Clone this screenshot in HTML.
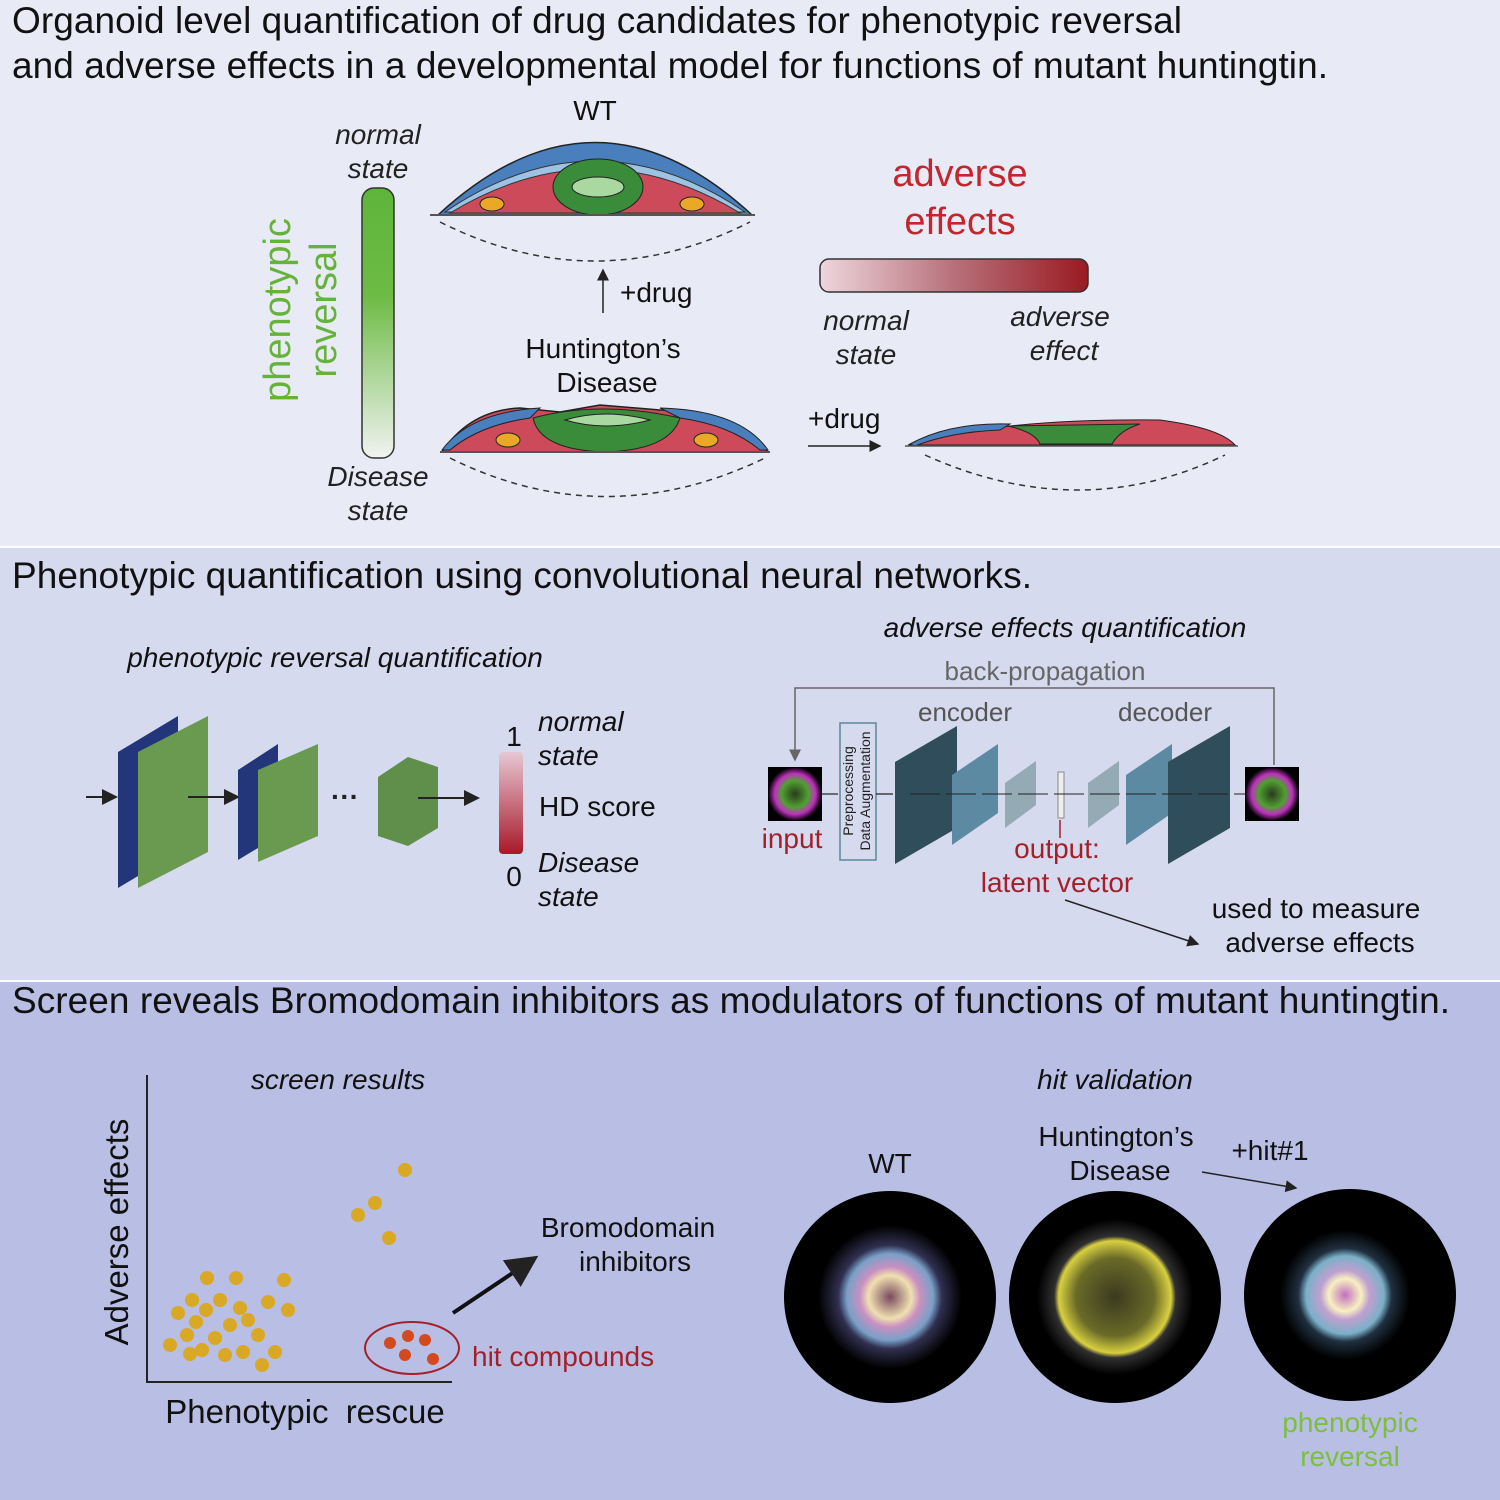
<!DOCTYPE html>
<html><head><meta charset="utf-8"><style>
html,body{margin:0;padding:0;background:#fff}
svg{display:block}
text{font-family:"Liberation Sans",Arial,sans-serif}
.i{font-style:italic}
</style></head><body>
<svg width="1500" height="1500" viewBox="0 0 1500 1500" xmlns="http://www.w3.org/2000/svg">
<defs>
<linearGradient id="gv" x1="0" y1="0" x2="0" y2="1"><stop offset="0" stop-color="#5eb53a"/><stop offset="0.4" stop-color="#6dbb45"/><stop offset="1" stop-color="#f1f3f1"/></linearGradient>
<linearGradient id="gr" x1="0" y1="0" x2="1" y2="0"><stop offset="0" stop-color="#eed6dc"/><stop offset="0.5" stop-color="#b8707a"/><stop offset="1" stop-color="#9a1a22"/></linearGradient>
<linearGradient id="gs" x1="0" y1="0" x2="0" y2="1"><stop offset="0" stop-color="#e6c8d2"/><stop offset="1" stop-color="#a8182a"/></linearGradient>
<radialGradient id="o1"><stop offset="0" stop-color="#7a4a60"/><stop offset="0.3" stop-color="#f0e0b0"/><stop offset="0.42" stop-color="#c890c0"/><stop offset="0.6" stop-color="#7aa0c8"/><stop offset="0.72" stop-color="#303050"/><stop offset="1" stop-color="#000"/></radialGradient>
<radialGradient id="o2"><stop offset="0" stop-color="#3a3a20"/><stop offset="0.5" stop-color="#6a6a28"/><stop offset="0.72" stop-color="#d8d040"/><stop offset="0.78" stop-color="#303030"/><stop offset="1" stop-color="#000"/></radialGradient>
<radialGradient id="o3"><stop offset="0" stop-color="#c070c0"/><stop offset="0.25" stop-color="#f8f0c0"/><stop offset="0.38" stop-color="#c0a0d0"/><stop offset="0.6" stop-color="#7ab0c8"/><stop offset="0.72" stop-color="#203040"/><stop offset="1" stop-color="#000"/></radialGradient>
<radialGradient id="sm"><stop offset="0" stop-color="#2a3a20"/><stop offset="0.5" stop-color="#50a030"/><stop offset="0.75" stop-color="#c030c0"/><stop offset="1" stop-color="#000"/></radialGradient>
<marker id="ah" markerWidth="8" markerHeight="8" refX="7" refY="4" orient="auto"><path d="M0,0 L8,4 L0,8 z" fill="#222"/></marker>
<marker id="ahg" markerWidth="8" markerHeight="8" refX="7" refY="4" orient="auto"><path d="M0,0 L8,4 L0,8 z" fill="#666"/></marker>
</defs>
<rect x="0" y="0" width="1500" height="546" fill="#e8eaf6"/>
<rect x="0" y="548" width="1500" height="432" fill="#d6daef"/>
<rect x="0" y="982" width="1500" height="518" fill="#b9bfe4"/>

<text x="12" y="33" font-size="37" fill="#111" textLength="1170">Organoid level quantification of drug candidates for phenotypic reversal</text>
<text x="12" y="78" font-size="37" fill="#111" textLength="1316">and adverse effects in a developmental model for functions of mutant huntingtin.</text>

<text class="i" x="378" y="144" font-size="28" text-anchor="middle" fill="#222">normal</text>
<text class="i" x="378" y="178" font-size="28" text-anchor="middle" fill="#222">state</text>
<rect x="362" y="188" width="32" height="270" rx="12" fill="url(#gv)" stroke="#333" stroke-width="1.5"/>
<text class="i" x="378" y="486" font-size="28" text-anchor="middle" fill="#222">Disease</text>
<text class="i" x="378" y="520" font-size="28" text-anchor="middle" fill="#222">state</text>
<text x="290" y="310" font-size="38" fill="#66b33a" text-anchor="middle" transform="rotate(-90 290 310)">phenotypic</text>
<text x="336" y="310" font-size="38" fill="#66b33a" text-anchor="middle" transform="rotate(-90 336 310)">reversal</text>

<text x="595" y="120" font-size="28" text-anchor="middle" fill="#111">WT</text>
<path d="M438,215 Q595,70 752,215 Z" fill="#4a7fbd" stroke="#222" stroke-width="1.5"/>
<path d="M445,212 Q595,110 745,212 Z" fill="#9dc3e3" stroke="#333"/>
<path d="M450,213 Q595,125 740,213 Z" fill="#cc4a5a" stroke="#333"/>
<ellipse cx="598" cy="187" rx="45" ry="28" fill="#3b8c3a" stroke="#222"/>
<ellipse cx="598" cy="187" rx="26" ry="10" fill="#a9d9a0" stroke="#222"/>
<ellipse cx="492" cy="204" rx="12" ry="7" fill="#e9a825" stroke="#222"/>
<ellipse cx="692" cy="204" rx="12" ry="7" fill="#e9a825" stroke="#222"/>
<line x1="430" y1="215" x2="755" y2="215" stroke="#555" stroke-width="2"/>
<path d="M440,222 Q595,300 750,222" fill="none" stroke="#333" stroke-width="1.5" stroke-dasharray="6,5"/>
<line x1="603" y1="313" x2="603" y2="270" stroke="#222" stroke-width="1.5" marker-end="url(#ah)"/>
<text x="620" y="302" font-size="28" fill="#111">+drug</text>
<text x="603" y="358" font-size="28" text-anchor="middle" fill="#111">Huntington’s</text>
<text x="607" y="392" font-size="28" text-anchor="middle" fill="#111">Disease</text>

<path d="M442,452 Q470,410 520,408 L560,412 L600,405 L660,410 Q720,410 768,452 Z" fill="#cc4a5a" stroke="#222" stroke-width="1.5"/>
<path d="M442,450 Q470,412 540,408 L530,418 Q480,425 450,450 Z" fill="#4a7fbd" stroke="#222"/>
<path d="M768,450 Q740,410 660,408 L680,418 Q730,425 760,450 Z" fill="#4a7fbd" stroke="#222"/>
<path d="M533,418 Q600,400 680,418 Q670,450 605,452 Q540,450 533,418 Z" fill="#3b8c3a" stroke="#222"/>
<path d="M565,420 Q605,408 650,420 Q605,432 565,420 Z" fill="#a9d9a0" stroke="#222"/>
<ellipse cx="508" cy="440" rx="12" ry="7" fill="#e9a825" stroke="#222"/>
<ellipse cx="706" cy="440" rx="12" ry="7" fill="#e9a825" stroke="#222"/>
<line x1="440" y1="452" x2="770" y2="452" stroke="#555" stroke-width="2"/>
<path d="M450,458 Q605,535 765,458" fill="none" stroke="#333" stroke-width="1.5" stroke-dasharray="6,5"/>

<text x="960" y="186" font-size="38" text-anchor="middle" fill="#c4262e">adverse</text>
<text x="960" y="234" font-size="38" text-anchor="middle" fill="#c4262e">effects</text>
<rect x="820" y="259" width="268" height="33" rx="9" fill="url(#gr)" stroke="#333" stroke-width="1.5"/>
<text class="i" x="866" y="330" font-size="28" text-anchor="middle" fill="#222">normal</text>
<text class="i" x="866" y="364" font-size="28" text-anchor="middle" fill="#222">state</text>
<text class="i" x="1060" y="326" font-size="28" text-anchor="middle" fill="#222">adverse</text>
<text class="i" x="1064" y="360" font-size="28" text-anchor="middle" fill="#222">effect</text>
<text x="808" y="428" font-size="28" fill="#111">+drug</text>
<line x1="808" y1="446" x2="880" y2="446" stroke="#222" stroke-width="1.5" marker-end="url(#ah)"/>
<path d="M908,445 Q1000,418 1160,420 Q1220,428 1235,445 Z" fill="#cc4a5a" stroke="#222"/>
<path d="M910,444 Q950,422 1010,424 L1000,430 Q950,432 915,446 Z" fill="#4a7fbd" stroke="#222"/>
<path d="M1008,426 L1140,424 Q1120,430 1112,444 L1040,444 Q1035,432 1008,426 Z" fill="#3b8c3a" stroke="#222"/>
<line x1="905" y1="446" x2="1238" y2="446" stroke="#555" stroke-width="1.5"/>
<path d="M925,455 Q1080,525 1225,455" fill="none" stroke="#333" stroke-width="1.5" stroke-dasharray="6,5"/>

<text x="12" y="588" font-size="37" fill="#111" textLength="1020">Phenotypic quantification using convolutional neural networks.</text>
<text class="i" x="335" y="667" font-size="28" text-anchor="middle" fill="#111">phenotypic reversal quantification</text>
<line x1="86" y1="797" x2="116" y2="797" stroke="#222" stroke-width="2" marker-end="url(#ah)"/>
<path d="M118,752 L178,716 L178,852 L118,888 Z" fill="#24367a"/>
<path d="M138,752 L208,716 L208,852 L138,888 Z" fill="#6a9a50"/>
<line x1="188" y1="797" x2="238" y2="797" stroke="#222" stroke-width="2" marker-end="url(#ah)"/>
<path d="M238,770 L278,744 L278,836 L238,860 Z" fill="#24367a"/>
<path d="M258,770 L318,744 L318,836 L258,862 Z" fill="#6a9a50"/>
<text x="345" y="806" font-size="28" text-anchor="middle" fill="#222" font-weight="bold">···</text>
<path d="M378,777 L408,757 L438,767 L438,828 L408,846 L378,836 Z" fill="#5f8f4a"/>
<line x1="418" y1="798" x2="478" y2="798" stroke="#222" stroke-width="2" marker-end="url(#ah)"/>
<text x="514" y="746" font-size="28" text-anchor="middle" fill="#111">1</text>
<text x="514" y="886" font-size="28" text-anchor="middle" fill="#111">0</text>
<rect x="499" y="752" width="24" height="102" rx="4" fill="url(#gs)"/>
<text class="i" x="538" y="731" font-size="28" fill="#111">normal</text>
<text class="i" x="538" y="765" font-size="28" fill="#111">state</text>
<text x="539" y="816" font-size="28" fill="#111">HD score</text>
<text class="i" x="538" y="872" font-size="28" fill="#111">Disease</text>
<text class="i" x="538" y="906" font-size="28" fill="#111">state</text>

<text class="i" x="1065" y="637" font-size="28" text-anchor="middle" fill="#111">adverse effects quantification</text>
<text x="1045" y="680" font-size="26" text-anchor="middle" fill="#666">back-propagation</text>
<path d="M1274,765 L1274,688 L795,688 L795,760" fill="none" stroke="#666" stroke-width="1.5" marker-end="url(#ahg)"/>
<text x="965" y="721" font-size="26" text-anchor="middle" fill="#555">encoder</text>
<text x="1165" y="721" font-size="26" text-anchor="middle" fill="#555">decoder</text>
<rect x="768" y="767" width="54" height="54" fill="url(#sm)"/>
<rect x="1245" y="767" width="54" height="54" fill="url(#sm)"/>
<text x="792" y="848" font-size="28" text-anchor="middle" fill="#a3202a">input</text>
<rect x="840" y="723" width="36" height="137" fill="none" stroke="#5a8898" stroke-width="1.5"/>
<text x="853" y="791" font-size="14" text-anchor="middle" fill="#222" transform="rotate(-90 853 791)">Preprocessing</text>
<text x="870" y="791" font-size="14" text-anchor="middle" fill="#222" transform="rotate(-90 870 791)">Data Augmentation</text>
<line x1="822" y1="794" x2="838" y2="794" stroke="#222" stroke-width="1.2"/>
<line x1="876" y1="794" x2="893" y2="794" stroke="#222" stroke-width="1.2"/>
<path d="M895,762 L957,726 L957,828 L895,864 Z" fill="#2f4d5a"/>
<path d="M952,775 L998,744 L998,813 L952,845 Z" fill="#5b8aa2"/>
<path d="M1005,783 L1036,761 L1036,805 L1005,828 Z" fill="#94aab4"/>
<rect x="1058" y="772" width="6" height="46" fill="#eee" stroke="#888"/>
<path d="M1088,783 L1119,761 L1119,805 L1088,828 Z" fill="#94aab4"/>
<path d="M1126,775 L1172,744 L1172,813 L1126,845 Z" fill="#5b8aa2"/>
<path d="M1168,762 L1230,726 L1230,828 L1168,864 Z" fill="#2f4d5a"/>
<line x1="910" y1="794" x2="1245" y2="794" stroke="#222" stroke-width="1" stroke-dasharray="30,6"/>
<line x1="1060" y1="820" x2="1060" y2="838" stroke="#a3202a" stroke-width="1.5"/>
<text x="1057" y="858" font-size="28" text-anchor="middle" fill="#a3202a">output:</text>
<text x="1057" y="892" font-size="28" text-anchor="middle" fill="#a3202a">latent vector</text>
<line x1="1065" y1="900" x2="1198" y2="944" stroke="#222" stroke-width="1.5" marker-end="url(#ah)"/>
<text x="1316" y="918" font-size="28" text-anchor="middle" fill="#111">used to measure</text>
<text x="1320" y="952" font-size="28" text-anchor="middle" fill="#111">adverse effects</text>

<text x="12" y="1013" font-size="37" fill="#111" textLength="1438">Screen reveals Bromodomain inhibitors as modulators of functions of mutant huntingtin.</text>
<text class="i" x="338" y="1089" font-size="28" text-anchor="middle" fill="#111">screen results</text>
<path d="M147,1075 L147,1382 L452,1382" fill="none" stroke="#222" stroke-width="2"/>
<text x="128" y="1232" font-size="33" text-anchor="middle" fill="#111" transform="rotate(-90 128 1232)">Adverse effects</text>
<text x="305" y="1423" font-size="33" text-anchor="middle" fill="#111" word-spacing="8">Phenotypic rescue</text>
<g fill="#d9a825">
<circle cx="405" cy="1170" r="7"/><circle cx="375" cy="1203" r="7"/><circle cx="358" cy="1215" r="7"/><circle cx="389" cy="1238" r="7"/>
<circle cx="207" cy="1278" r="7"/><circle cx="236" cy="1278" r="7"/><circle cx="284" cy="1280" r="7"/><circle cx="192" cy="1300" r="7"/><circle cx="220" cy="1300" r="7"/><circle cx="268" cy="1302" r="7"/><circle cx="288" cy="1310" r="7"/>
<circle cx="178" cy="1313" r="7"/><circle cx="206" cy="1310" r="7"/><circle cx="240" cy="1308" r="7"/><circle cx="196" cy="1322" r="7"/><circle cx="230" cy="1325" r="7"/><circle cx="248" cy="1320" r="7"/>
<circle cx="170" cy="1345" r="7"/><circle cx="187" cy="1335" r="7"/><circle cx="215" cy="1338" r="7"/><circle cx="258" cy="1335" r="7"/><circle cx="202" cy="1350" r="7"/><circle cx="225" cy="1355" r="7"/><circle cx="243" cy="1352" r="7"/><circle cx="275" cy="1352" r="7"/><circle cx="190" cy="1354" r="7"/><circle cx="262" cy="1365" r="7"/>
</g>
<ellipse cx="412" cy="1348" rx="47" ry="26" fill="none" stroke="#a3202a" stroke-width="2"/>
<g fill="#d24a1e"><circle cx="390" cy="1343" r="6"/><circle cx="408" cy="1336" r="6"/><circle cx="425" cy="1340" r="6"/><circle cx="405" cy="1355" r="6"/><circle cx="433" cy="1359" r="6"/></g>
<text x="472" y="1366" font-size="28" fill="#a3202a">hit compounds</text>
<line x1="453" y1="1313" x2="535" y2="1258" stroke="#111" stroke-width="4" marker-end="url(#ah)"/>
<text x="628" y="1237" font-size="28" text-anchor="middle" fill="#111">Bromodomain</text>
<text x="635" y="1271" font-size="28" text-anchor="middle" fill="#111">inhibitors</text>

<text class="i" x="1115" y="1089" font-size="28" text-anchor="middle" fill="#111">hit validation</text>
<text x="890" y="1173" font-size="28" text-anchor="middle" fill="#111">WT</text>
<text x="1116" y="1146" font-size="28" text-anchor="middle" fill="#111">Huntington’s</text>
<text x="1120" y="1180" font-size="28" text-anchor="middle" fill="#111">Disease</text>
<text x="1270" y="1160" font-size="28" text-anchor="middle" fill="#111">+hit#1</text>
<line x1="1202" y1="1172" x2="1296" y2="1188" stroke="#222" stroke-width="1.5" marker-end="url(#ah)"/>
<circle cx="890" cy="1297" r="106" fill="#000"/>
<circle cx="890" cy="1297" r="72" fill="url(#o1)"/>
<circle cx="1115" cy="1297" r="106" fill="#000"/>
<circle cx="1115" cy="1297" r="78" fill="url(#o2)"/>
<circle cx="1350" cy="1295" r="106" fill="#000"/>
<circle cx="1345" cy="1295" r="65" fill="url(#o3)"/>
<text x="1350" y="1432" font-size="28" text-anchor="middle" fill="#7cbf3e">phenotypic</text>
<text x="1350" y="1466" font-size="28" text-anchor="middle" fill="#7cbf3e">reversal</text>
</svg>
</body></html>
